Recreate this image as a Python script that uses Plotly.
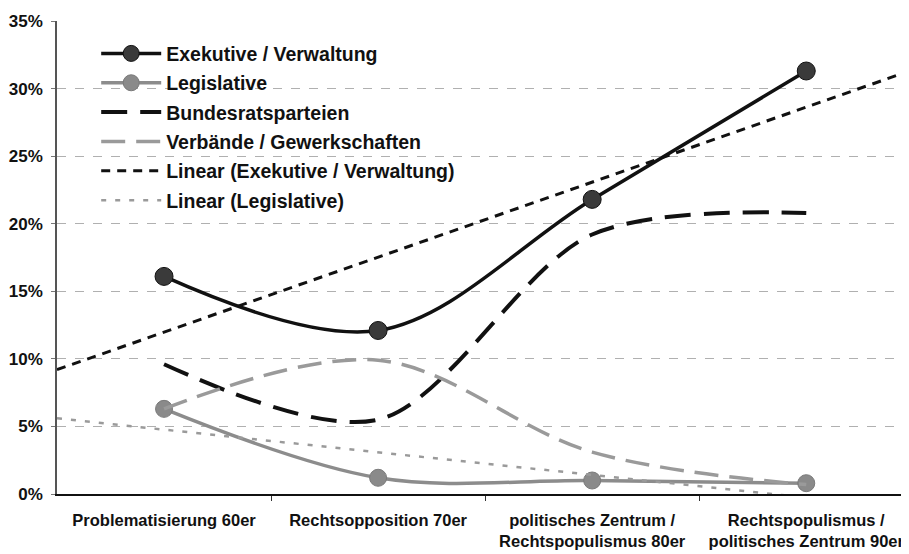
import plotly.graph_objects as go

# categories (x positions 1..4 on a numeric axis)
categories = [
    "Problematisierung 60er",
    "Rechtsopposition 70er",
    "politisches Zentrum /<br>Rechtspopulismus 80er",
    "Rechtspopulismus /<br>politisches Zentrum 90er",
]
cat_pos = [1, 2, 3, 4]

# series values in percent
exekutive = [16.1, 12.1, 21.8, 31.3]
legislative = [6.3, 1.2, 1.0, 0.8]
bundesrat = [9.6, 5.5, 19.2, 20.8]
verbaende = [6.3, 9.9, 3.1, 0.7]

# linear trend lines, read at the plot edges
trend_pos = [0.5, 4.5]
trend_exekutive = [9.2, 31.4]
trend_legislative = [5.6, -1.1]

y_ticks = [0, 5, 10, 15, 20, 25, 30, 35]
y_labels = ["0%", "5%", "10%", "15%", "20%", "25%", "30%", "35%"]

fig = go.Figure()

fig.add_trace(go.Scatter(
    x=cat_pos, y=exekutive, name="Exekutive / Verwaltung", legendgroup="a",
    mode="lines+markers", line=dict(color="#111111", width=3.5, shape="spline", smoothing=1.0),
    marker=dict(size=18, color="#3a3a3a", line=dict(color="#111111", width=1)),
))
fig.add_trace(go.Scatter(
    x=cat_pos, y=legislative, name="Legislative", legendgroup="b",
    mode="lines+markers", line=dict(color="#8c8c8c", width=3.5, shape="spline", smoothing=1.0),
    marker=dict(size=17, color="#8a8a8a", line=dict(color="#7a7a7a", width=1)),
))
fig.add_trace(go.Scatter(
    x=cat_pos, y=bundesrat, name="Bundesratsparteien", legendgroup="c",
    mode="lines", line=dict(color="#111111", width=4, dash="26px,13px", shape="spline", smoothing=0.9),
))
fig.add_trace(go.Scatter(
    x=cat_pos, y=verbaende, name="Verbände / Gewerkschaften", legendgroup="d",
    mode="lines", line=dict(color="#9a9a9a", width=3.5, dash="24px,11px", shape="spline", smoothing=1.0),
))
fig.add_trace(go.Scatter(
    x=trend_pos, y=trend_exekutive, name="Linear (Exekutive / Verwaltung)", legendgroup="e",
    mode="lines", line=dict(color="#111111", width=3, dash="9px,7px"),
))
fig.add_trace(go.Scatter(
    x=trend_pos, y=trend_legislative, name="Linear (Legislative)", legendgroup="f",
    mode="lines", line=dict(color="#9a9a9a", width=2.5, dash="5px,9px"),
))

bold = dict(family="Liberation Sans, Arial, sans-serif", color="#111111", weight="bold")

# the page body adds an 8px margin, so the figure is sized to fit the window
fig.update_layout(
    width=901, height=546,
    margin=dict(l=49, r=0, t=13, b=60),
    paper_bgcolor="white", plot_bgcolor="white",
    showlegend=True,
    legend=dict(
        x=0.046, y=0.972, xanchor="left", yanchor="top",
        bgcolor="rgba(0,0,0,0)", itemwidth=60, tracegroupgap=1,
        font=dict(size=19.5, **bold),
    ),
)

fig.update_xaxes(
    range=[0.5, 4.48], tickmode="array", tickvals=cat_pos, ticktext=categories,
    ticks="", showgrid=False, zeroline=False, automargin=False,
    showline=True, linecolor="#111111", linewidth=2, ticklabeloverflow="allow",
    tickfont=dict(size=16.5, **bold), ticklabelstandoff=10,
    minor=dict(tickmode="array", tickvals=[1.5, 2.5, 3.5], ticks="outside",
               ticklen=5, tickcolor="#333333", tickwidth=1, showgrid=False),
)

fig.update_yaxes(
    range=[0, 35], tickmode="array", tickvals=y_ticks, ticktext=y_labels,
    showgrid=True, gridcolor="#b0b0b0", gridwidth=1, griddash="dash",
    zeroline=False, showline=True, linecolor="#555555", linewidth=1.5, automargin=False,
    ticks="outside", ticklen=4, tickcolor="#777777",
    tickfont=dict(size=17, **bold), ticklabelstandoff=5,
)

fig.write_html("out.html")
